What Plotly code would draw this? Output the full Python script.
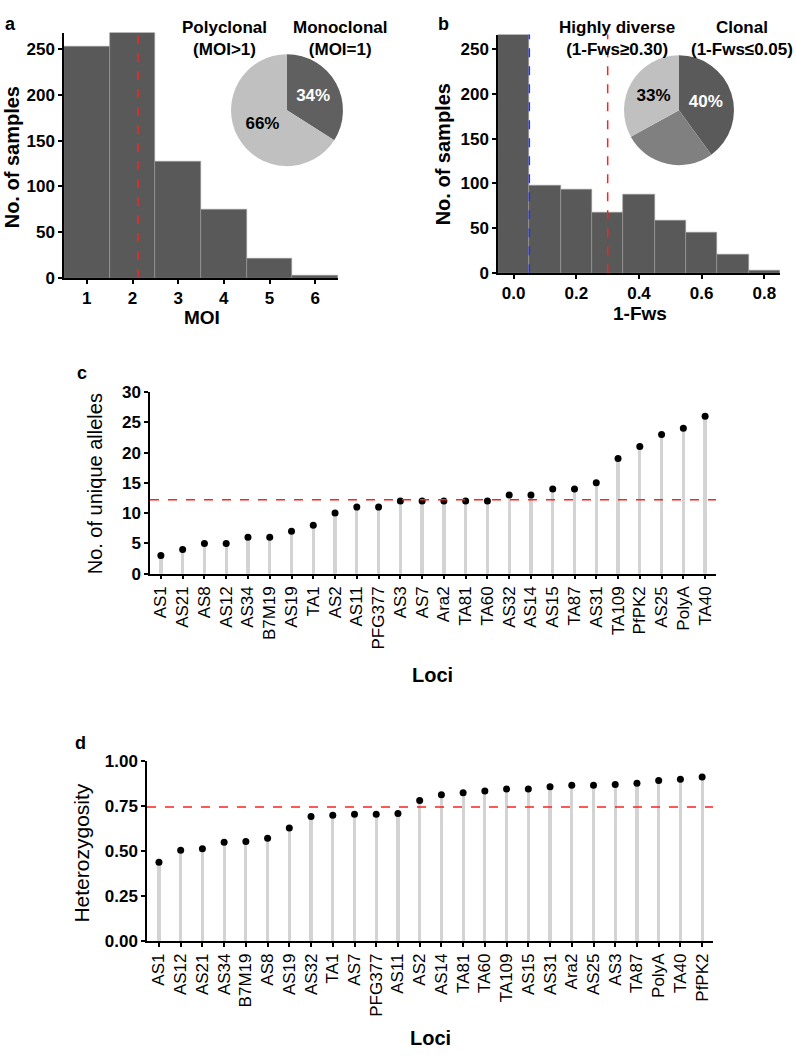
import plotly.graph_objects as go

W, H = 797, 1058

# ---------------- data ----------------
moi_vals = [1, 2, 3, 4, 5, 6]
moi_counts = [253, 268, 127, 75, 21, 3]
moi_mean = 2.12

fws_bins = [0.0, 0.1, 0.2, 0.3, 0.4, 0.5, 0.6, 0.7, 0.8]
fws_counts = [266, 98, 93, 68, 88, 59, 45, 21, 3]
fws_clonal = 0.05
fws_diverse = 0.30

pie_a_labels = ["Monoclonal", "Polyclonal"]
pie_a_values = [34, 66]
pie_a_text = ["34%", "66%"]

pie_b_labels = ["Clonal", "Intermediate", "Highly diverse"]
pie_b_values = [40, 27, 33]
pie_b_text = ["40%", "", "33%"]

loci_c = ["AS1", "AS21", "AS8", "AS12", "AS34", "B7M19", "AS19", "TA1", "AS2", "AS11",
          "PFG377", "AS3", "AS7", "Ara2", "TA81", "TA60", "AS32", "AS14", "AS15", "TA87",
          "AS31", "TA109", "PfPK2", "AS25", "PolyA", "TA40"]
alleles_c = [3, 4, 5, 5, 6, 6, 7, 8, 10, 11, 11, 12, 12, 12, 12, 12, 13, 13, 14, 14,
             15, 19, 21, 23, 24, 26]
alleles_mean = 12.2

loci_d = ["AS1", "AS12", "AS21", "AS34", "B7M19", "AS8", "AS19", "AS32", "TA1", "AS7",
          "PFG377", "AS11", "AS2", "AS14", "TA81", "TA60", "TA109", "AS15", "AS31", "Ara2",
          "AS25", "AS3", "TA87", "PolyA", "TA40", "PfPK2"]
het_d = [0.438, 0.505, 0.513, 0.549, 0.553, 0.571, 0.629, 0.693, 0.700, 0.705,
         0.705, 0.709, 0.782, 0.813, 0.824, 0.835, 0.845, 0.845, 0.858, 0.867,
         0.867, 0.871, 0.878, 0.893, 0.900, 0.913]
het_mean = 0.745

# ---------------- helpers ----------------
FONT = "Liberation Sans, Arial, sans-serif"
def px(x):
    return x / W
def py(y):
    return 1 - y / H

HIST_COL = "#595959"
STEM_COL = "#d3d3d3"

fig = go.Figure()

# Panel a histogram
fig.add_trace(go.Bar(x=moi_vals, y=moi_counts, width=1, marker=dict(color=HIST_COL, line=dict(color="#9a9a9a", width=0.6)),
                     xaxis="x", yaxis="y", showlegend=False))
# Panel b histogram
fig.add_trace(go.Bar(x=fws_bins, y=fws_counts, width=0.1, marker=dict(color=HIST_COL, line=dict(color="#9a9a9a", width=0.6)),
                     xaxis="x2", yaxis="y2", showlegend=False))
# Panel c stems + dots
fig.add_trace(go.Bar(x=loci_c, y=alleles_c, width=0.15, marker=dict(color=STEM_COL, line=dict(width=0)),
                     xaxis="x3", yaxis="y3", showlegend=False))
fig.add_trace(go.Scatter(x=loci_c, y=alleles_c, mode="markers", marker=dict(color="black", size=7),
                         xaxis="x3", yaxis="y3", showlegend=False))
# Panel d stems + dots
fig.add_trace(go.Bar(x=loci_d, y=het_d, width=0.15, marker=dict(color=STEM_COL, line=dict(width=0)),
                     xaxis="x4", yaxis="y4", showlegend=False))
fig.add_trace(go.Scatter(x=loci_d, y=het_d, mode="markers", marker=dict(color="black", size=7),
                         xaxis="x4", yaxis="y4", showlegend=False))

# Pies
fig.add_trace(go.Pie(labels=pie_a_labels, values=pie_a_values, text=pie_a_text, textinfo="text",
                     sort=False, direction="clockwise", rotation=0,
                     marker=dict(colors=["#606060", "#c0c0c0"], line=dict(width=0)),
                     textfont=dict(family=FONT, size=17, color=["white", "black"], weight="bold"),
                     insidetextorientation="horizontal", showlegend=False, hoverinfo="skip",
                     domain=dict(x=[px(230), px(344)], y=[py(160), py(46)])))
fig.add_trace(go.Pie(labels=pie_b_labels, values=pie_b_values, text=pie_b_text, textinfo="text",
                     sort=False, direction="clockwise", rotation=0,
                     marker=dict(colors=["#5a5a5a", "#808080", "#c0c0c0"], line=dict(width=0)),
                     textfont=dict(family=FONT, size=17, color=["white", "white", "black"], weight="bold"),
                     insidetextorientation="horizontal", showlegend=False, hoverinfo="skip",
                     domain=dict(x=[px(623), px(735)], y=[py(159), py(47)])))

axis_common = dict(showgrid=False, zeroline=False, showline=True, linecolor="black", linewidth=1.5,
                   ticks="outside", ticklen=4, tickwidth=1.5, tickcolor="black")
bold_tick = dict(family=FONT, size=17, color="black", weight="bold")
reg_tick = dict(family=FONT, size=17, color="black")

fig.update_layout(
    width=W, height=H, margin=dict(l=0, r=0, t=0, b=0),
    paper_bgcolor="white", plot_bgcolor="white", bargap=0,
    xaxis=dict(**axis_common, domain=[px(64), px(338)], range=[0.5, 6.5], tickvals=moi_vals,
               tickfont=bold_tick, anchor="y"),
    yaxis=dict(**axis_common, domain=[py(274), py(24)], range=[0, 268], tickvals=[0, 50, 100, 150, 200, 250],
               tickfont=bold_tick, anchor="x"),
    xaxis2=dict(**axis_common, domain=[px(498), px(780)], range=[-0.05, 0.85],
                tickvals=[0, 0.2, 0.4, 0.6, 0.8], tickformat=".1f", tickfont=bold_tick, anchor="y2"),
    yaxis2=dict(**axis_common, domain=[py(269), py(26)], range=[0, 266], tickvals=[0, 50, 100, 150, 200, 250],
                tickfont=bold_tick, anchor="x2"),
    xaxis3=dict(**axis_common, domain=[px(150), px(716)], range=[-0.5, 25.5], tickangle=-90,
                tickfont=reg_tick, anchor="y3", type="category"),
    yaxis3=dict(**axis_common, domain=[py(575), py(390)], range=[0, 30], tickvals=[0, 5, 10, 15, 20, 25, 30],
                tickfont=bold_tick, anchor="x3"),
    xaxis4=dict(**axis_common, domain=[px(147), px(713)], range=[-0.55, 25.5], tickangle=-90,
                tickfont=reg_tick, anchor="y4", type="category"),
    yaxis4=dict(**axis_common, domain=[py(949), py(766)], range=[0, 1.0], tickvals=[0, 0.25, 0.5, 0.75, 1.0],
                tickformat=".2f", tickfont=bold_tick, anchor="x4"),
)

# dashed reference lines
fig.add_shape(type="line", xref="x", yref="y domain", x0=moi_mean, x1=moi_mean, y0=0, y1=1,
              line=dict(color="#ff2020", width=1.5, dash="dash"))
fig.add_shape(type="line", xref="x2", yref="y2 domain", x0=fws_clonal, x1=fws_clonal, y0=0, y1=1,
              line=dict(color="#2030ff", width=1.5, dash="dash"))
fig.add_shape(type="line", xref="x2", yref="y2 domain", x0=fws_diverse, x1=fws_diverse, y0=0, y1=1,
              line=dict(color="#ff2020", width=1.5, dash="dash"))
fig.add_shape(type="line", xref="x3 domain", yref="y3", x0=0, x1=1, y0=alleles_mean, y1=alleles_mean,
              line=dict(color="#ff2020", width=1.5, dash="dash"))
fig.add_shape(type="line", xref="x4 domain", yref="y4", x0=0, x1=1, y0=het_mean, y1=het_mean,
              line=dict(color="#ff2020", width=1.5, dash="dash"))

def ann(text, x, y, size=18, bold=True, angle=0, xanchor="center", yanchor="middle"):
    fig.add_annotation(text=text, x=px(x), y=py(y), xref="paper", yref="paper", showarrow=False,
                       textangle=angle, xanchor=xanchor, yanchor=yanchor, borderpad=0, align="center",
                       font=dict(family=FONT, size=size, color="black", weight="bold" if bold else "normal"))

# panel letters
ann("a", 10, 15, size=18)
ann("b", 443, 15, size=18)
ann("c", 82, 371, size=18)
ann("d", 80, 747, size=18)

# axis titles
ann("No. of samples", 12, 151, size=20, angle=-90)
ann("MOI", 202, 314, size=19)
ann("No. of samples", 443, 148, size=20, angle=-90)
ann("1-Fws", 640, 310, size=19)
ann("No. of unique alleles", 95, 484, size=20, bold=False, angle=-90)
ann("Loci", 432, 678, size=20)
ann("Heterozygosity", 82, 860, size=21, bold=False, angle=-90)
ann("Loci", 430, 1048, size=20)

# pie headings
ann("Polyclonal<br>(MOI>1)", 224, 30, size=17)
ann("Monoclonal<br>(MOI=1)", 340, 30, size=17)
ann("Highly diverse<br>(1-Fws≥0.30)", 617, 30, size=17)
ann("Clonal<br>(1-Fws≤0.05)", 742, 30, size=17)

fig.write_html("out.html", config={"displayModeBar": False},
               post_script="document.body.style.margin='0';document.body.style.overflow='hidden';")
